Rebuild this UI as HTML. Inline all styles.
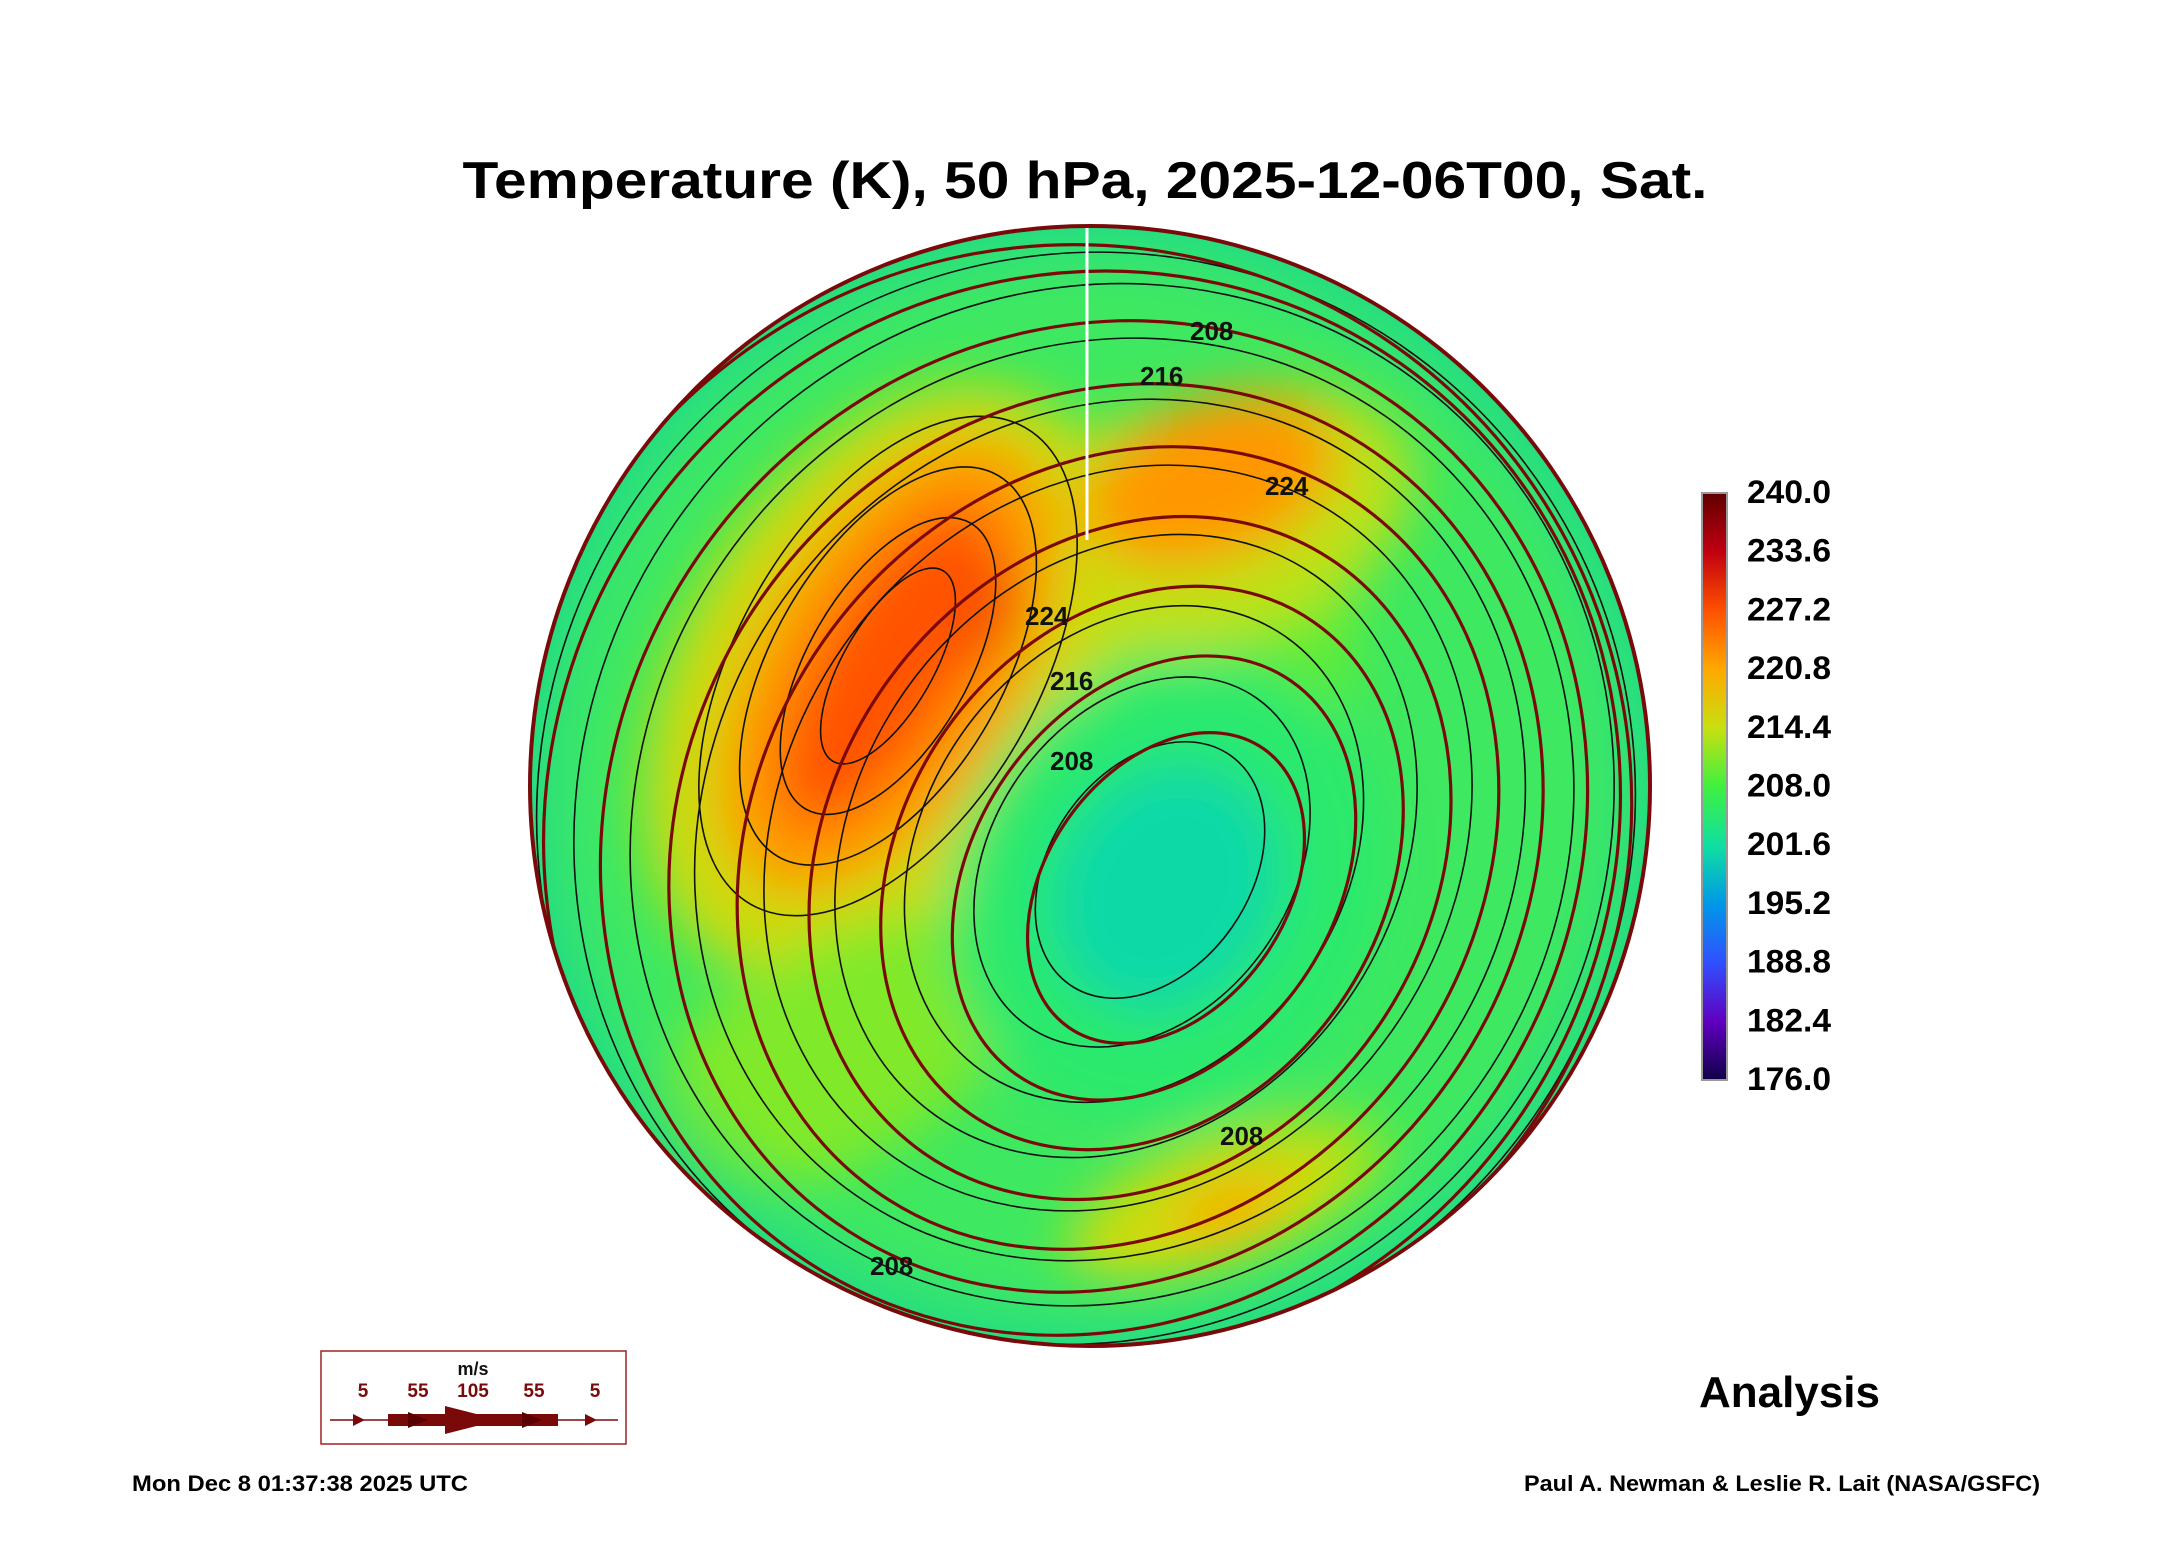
<!DOCTYPE html>
<html><head><meta charset="utf-8"><style>
html,body{margin:0;padding:0;background:#fff}
svg{display:block}
text{font-family:"Liberation Sans",sans-serif;font-weight:bold}
</style></head><body>
<svg id="chart" width="2165" height="1561" viewBox="0 0 2165 1561" xmlns="http://www.w3.org/2000/svg">
<defs>
<clipPath id="disk"><circle cx="1090" cy="786" r="560"/></clipPath>
<filter id="blur" x="-50%" y="-50%" width="200%" height="200%"><feGaussianBlur stdDeviation="26"/></filter>
<radialGradient id="rim" cx="0.5" cy="0.5" r="0.5">
<stop offset="0.82" stop-color="#40e870" stop-opacity="0"/>
<stop offset="1" stop-color="#18d890" stop-opacity="0.8"/>
</radialGradient>
</defs>
<text x="1085" y="198" text-anchor="middle" font-size="52" textLength="1245" lengthAdjust="spacingAndGlyphs">Temperature (K), 50 hPa, 2025-12-06T00, Sat.</text>
<g id="map" clip-path="url(#disk)">
<rect x="520" y="216" width="1140" height="1140" fill="#3ee860"/>
<g id="blobs" filter="url(#blur)"></g>
<rect x="520" y="216" width="1140" height="1140" fill="url(#rim)"/>
<g id="contours" fill="none" stroke="#111" stroke-width="1.6"></g>
<g id="streams" fill="none" stroke="#7a0a0a" stroke-width="3.2"></g>
<line x1="1087" y1="222" x2="1087" y2="540" stroke="#fff" stroke-width="3"/>
</g>
<circle cx="1090" cy="786" r="560" fill="none" stroke="#7a0a0a" stroke-width="4"/>
<g id="labels" font-size="26" fill="#111"></g>
<g id="colorbar"></g>
<text x="1699" y="1407" font-size="44">Analysis</text>
<g>
<rect x="321" y="1351" width="305" height="93" fill="#fff" stroke="#a02020" stroke-width="1.5"/>
<text x="473" y="1375" font-size="18" text-anchor="middle" fill="#111">m/s</text>
<g font-size="19" fill="#7a0a0a" text-anchor="middle">
<text x="363" y="1397">5</text><text x="418" y="1397">55</text><text x="473" y="1397">105</text><text x="534" y="1397">55</text><text x="595" y="1397">5</text>
</g>
<line x1="330" y1="1420" x2="618" y2="1420" stroke="#7a0a0a" stroke-width="1.5"/>
<polygon points="353,1414 365,1420 353,1426" fill="#7a0a0a"/>
<polygon points="585,1414 597,1420 585,1426" fill="#7a0a0a"/>
<rect x="388" y="1414" width="170" height="12" fill="#7a0a0a"/>
<polygon points="445,1406 500,1420 445,1434" fill="#7a0a0a"/>
<polygon points="408,1412 428,1420 408,1428" fill="#5a0000"/>
<polygon points="522,1412 542,1420 522,1428" fill="#5a0000"/>
</g>
<text x="132" y="1491" font-size="22" textLength="336" lengthAdjust="spacingAndGlyphs">Mon Dec  8 01:37:38 2025 UTC</text>
<text x="1524" y="1491" font-size="22" textLength="516" lengthAdjust="spacingAndGlyphs">Paul A. Newman &amp; Leslie R. Lait (NASA/GSFC)</text>
</svg>
<script>
const cbTicks=[176.0,182.4,188.8,195.2,201.6,208.0,214.4,220.8,227.2,233.6,240.0];
const cbColors=["#100048","#6000c0","#3050ff","#0098e8","#10e0a0","#40f040","#c8e010","#ffa800","#ff5000","#c00010","#600000"];
// temperature blobs: center, semi-axes, rotation, temperature (K)
const blobCx=[1070,1220,880,1210,833,1230,888,958,1166,1166,1208,1230,888];
const blobCy=[700,520,680,480,1055,1200,666,611,888,888,1208,1210,666];
const blobRx=[330,200,320,130,210,170,250,70,210,110,150,60,180];
const blobRy=[240,120,200,80,110,70,130,50,240,130,55,28,70];
const blobRot=[-45,-20,-60,-20,-30,-20,-60,-60,30,30,-20,-20,-60];
const blobT=[209.5,214,215,222,211,212,222,230,205,201,215,220,227];
const streamRx=[120,180,240,300,360,420,480,530,560];
const streamRy=[170,240,300,360,420,470,520,555,565];
const contourRx=[100,150,210,270,335,400,460,510,545];
const contourRy=[140,200,265,330,390,445,495,540,558];
const NS="http://www.w3.org/2000/svg";
const cbTop=493,cbBot=1080;
function yScale(v){return cbBot-(v-176)/(240-176)*(cbBot-cbTop);}
function hex(c){return [1,3,5].map(i=>parseInt(c.substr(i,2),16));}
function tColor(t){
 for(let i=0;i<cbTicks.length-1;i++){if(t<=cbTicks[i+1]){const f=Math.max(0,(t-cbTicks[i])/(cbTicks[i+1]-cbTicks[i]));const a=hex(cbColors[i]),b=hex(cbColors[i+1]);return "rgb("+a.map((v,k)=>Math.round(v+(b[k]-v)*f)).join(",")+")";}}
 return cbColors[cbColors.length-1];}
const blobs=document.getElementById('blobs');
for(let i=0;i<blobT.length;i++){
 const e=document.createElementNS(NS,'ellipse');
 
 
 e.setAttribute('cx',blobCx[i]);e.setAttribute('cy',blobCy[i]);e.setAttribute('rx',blobRx[i]);e.setAttribute('ry',blobRy[i]);
 e.setAttribute('transform','rotate('+blobRot[i]+' '+blobCx[i]+' '+blobCy[i]+')');
 e.setAttribute('fill',tColor(blobT[i]));blobs.appendChild(e);}
const st=document.getElementById('streams');
for(let i=0;i<streamRx.length;i++){
 const e=document.createElementNS(NS,'ellipse');
 
 
 const cx=1166-i*12,cy=888-i*10;
 e.setAttribute('cx',cx);e.setAttribute('cy',cy);e.setAttribute('rx',streamRx[i]);e.setAttribute('ry',streamRy[i]);
 e.setAttribute('transform','rotate(35 '+cx+' '+cy+')');st.appendChild(e);}
const ct=document.getElementById('contours');
for(let i=0;i<contourRx.length;i++){
 const e=document.createElementNS(NS,'ellipse');
 
 
 const cx=1150-i*8,cy=870-i*8;
 e.setAttribute('cx',cx);e.setAttribute('cy',cy);e.setAttribute('rx',contourRx[i]);e.setAttribute('ry',contourRy[i]);
 e.setAttribute('transform','rotate(35 '+cx+' '+cy+')');ct.appendChild(e);}
for(let i=0;i<4;i++){
 const e=document.createElementNS(NS,'ellipse');
 
 
 e.setAttribute('cx',888);e.setAttribute('cy',666);e.setAttribute('rx',110+i*55);e.setAttribute('ry',45+i*35);
 e.setAttribute('transform','rotate(-60 888 666)');ct.appendChild(e);}
const lb=document.getElementById('labels');
[["208",1190,340],["216",1140,385],["224",1265,495],["224",1025,625],["216",1050,690],["208",1050,770],["208",1220,1145],["208",870,1275]].forEach(d=>{
 const t=document.createElementNS(NS,'text');
 
 
 t.setAttribute('x',d[1]);t.setAttribute('y',d[2]);t.textContent=d[0];lb.appendChild(t);});
const cb=document.getElementById('colorbar');
const grad=document.createElementNS(NS,'linearGradient');
grad.setAttribute('id','cbgrad');grad.setAttribute('x1','0');grad.setAttribute('y1','1');grad.setAttribute('x2','0');grad.setAttribute('y2','0');
cbColors.forEach((c,i)=>{const s=document.createElementNS(NS,'stop');s.setAttribute('offset',i/(cbColors.length-1));s.setAttribute('stop-color',c);grad.appendChild(s);});
document.querySelector('defs').appendChild(grad);
const r=document.createElementNS(NS,'rect');


r.setAttribute('x',1702);r.setAttribute('y',cbTop);r.setAttribute('width',25);r.setAttribute('height',cbBot-cbTop);r.setAttribute('fill','url(#cbgrad)');r.setAttribute('stroke','#999');r.setAttribute('stroke-width','2');cb.appendChild(r);
cbTicks.forEach(v=>{
 const t=document.createElementNS(NS,'text');
 
 
 t.setAttribute('x',1747);t.setAttribute('y',yScale(v)+10);t.setAttribute('font-size','32');t.setAttribute('textLength','84');t.setAttribute('lengthAdjust','spacingAndGlyphs');t.textContent=v.toFixed(1);cb.appendChild(t);});
</script>
</body></html>
